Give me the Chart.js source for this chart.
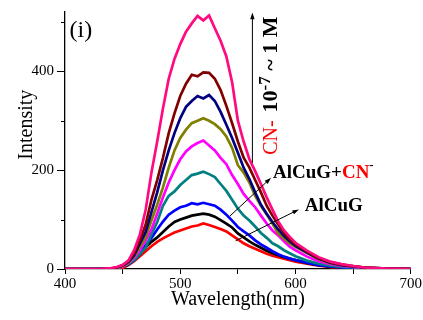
<!DOCTYPE html>
<html>
<head>
<meta charset="utf-8">
<title>Fluorescence spectra</title>
<script src="https://cdn.jsdelivr.net/npm/chart.js@4/dist/chart.umd.min.js"></script>
<style>
  html, body { margin: 0; padding: 0; background: #fff; }
  #wrap { width: 423px; height: 320px; }
</style>
</head>
<body>
<div id="wrap"><canvas id="spectra" width="423" height="320"></canvas></div>
<script>
// Emission wavelengths (nm)
const wavelengths = [400, 430, 440, 445, 450, 455, 460, 465, 470, 475, 480, 485, 490, 495, 500, 505, 510, 515, 520, 525, 530, 535, 540, 545, 550, 555, 560, 565, 570, 575, 580, 585, 590, 595, 600, 610, 620, 630, 640, 650, 660, 680, 700];

// Intensity for each CN- level, highest first
const cnHighest = [0, 0, 2, 4, 8, 17, 38, 70, 120, 195, 258, 325, 385, 425, 455, 480, 497, 512, 503, 513, 487, 462, 430, 378, 300, 258, 222, 198, 172, 145, 120, 96, 78, 65, 53, 37, 24, 15, 10, 6, 3, 1, 0];
const cnLevel7 = [0, 0, 1, 3, 8, 16, 32, 58, 90, 140, 180, 225, 275, 315, 350, 375, 393, 390, 398, 397, 385, 362, 330, 295, 258, 225, 205, 180, 155, 128, 108, 90, 73, 60, 50, 35, 22, 14, 9, 6, 3, 1, 0];
const cnLevel6 = [0, 0, 1, 3, 7, 14, 28, 52, 75, 115, 155, 200, 240, 275, 305, 328, 340, 350, 345, 352, 340, 318, 292, 265, 235, 205, 182, 155, 130, 112, 95, 80, 67, 56, 47, 33, 21, 13, 8, 5, 3, 1, 0];
const cnLevel5 = [0, 0, 1, 2, 6, 13, 25, 45, 65, 98, 130, 165, 205, 240, 265, 282, 295, 300, 305, 300, 293, 283, 268, 245, 210, 195, 175, 148, 128, 110, 92, 72, 62, 52, 45, 32, 20, 12, 8, 5, 3, 1, 0];
const cnLevel4 = [0, 0, 1, 2, 5, 12, 22, 38, 58, 80, 112, 145, 175, 200, 222, 238, 248, 255, 260, 250, 240, 225, 212, 190, 172, 152, 138, 125, 108, 92, 78, 68, 56, 45, 38, 25, 16, 10, 6, 4, 2, 1, 0];
const cnLevel3 = [0, 0, 1, 2, 5, 10, 18, 30, 43, 70, 95, 128, 148, 157, 170, 180, 190, 193, 197, 192, 186, 172, 158, 140, 122, 108, 98, 86, 73, 63, 52, 46, 38, 32, 26, 17, 11, 7, 4, 3, 2, 0, 0];
const cnLevel2 = [0, 0, 1, 2, 5, 10, 18, 30, 48, 63, 80, 96, 110, 118, 125, 128, 133, 131, 134, 131, 128, 120, 110, 98, 85, 76, 68, 58, 50, 43, 36, 30, 25, 21, 18, 13, 8, 5, 3, 2, 1, 0, 0];
const cnLevel1 = [0, 0, 1, 2, 5, 9, 18, 30, 44, 55, 64, 75, 86, 95, 100, 104, 108, 110, 112, 110, 106, 99, 92, 84, 72, 64, 56, 49, 43, 37, 32, 28, 24, 21, 18, 12, 8, 5, 3, 2, 1, 0, 0];
const alcugOnly = [0, 0, 0, 1, 2, 8, 16, 26, 36, 46, 55, 62, 68, 74, 78, 82, 86, 88, 92, 89, 85, 81, 76, 68, 60, 52, 46, 41, 36, 31, 27, 24, 21, 18, 15, 11, 7, 4, 2, 1, 1, 0, 0];

const seriesList = [cnHighest, cnLevel7, cnLevel6, cnLevel5, cnLevel4, cnLevel3, cnLevel2, cnLevel1, alcugOnly];
const seriesColors = ['#ff0a80', '#800000', '#000080', '#808000', '#ff00ff', '#008080', '#0000ff', '#000000', '#ff0000'];

const xTicks = [400, 500, 600, 700];
const yTicks = [0, 200, 400];
const yMinorTicks = [100, 300, 500];

const serif = "'Liberation Serif', 'Times New Roman', serif";

function drawArrow(ctx, x1, y1, x2, y2) {
    const ang = Math.atan2(y2 - y1, x2 - x1);
    const len = 7;
    ctx.beginPath();
    ctx.moveTo(x1, y1);
    ctx.lineTo(x2 - Math.cos(ang) * 4, y2 - Math.sin(ang) * 4);
    ctx.stroke();
    ctx.beginPath();
    ctx.moveTo(x2, y2);
    ctx.lineTo(x2 - len * Math.cos(ang - 0.32), y2 - len * Math.sin(ang - 0.32));
    ctx.lineTo(x2 - len * Math.cos(ang + 0.32), y2 - len * Math.sin(ang + 0.32));
    ctx.closePath();
    ctx.fill();
}

// Panel tag, y title, short minor ticks, concentration arrow and curve labels
const notes = {
    id: 'notes',
    afterDatasetsDraw(chart) {
        const ctx = chart.ctx;
        const x = chart.scales.x;
        const y = chart.scales.y;
        ctx.save();
        ctx.fillStyle = '#000';
        ctx.strokeStyle = '#000';
        ctx.lineWidth = 1;

        // short minor ticks on the y axis
        yMinorTicks.forEach(function (v) {
            const py = Math.round(y.getPixelForValue(v)) + 0.5;
            ctx.beginPath();
            ctx.moveTo(x.left - 4, py);
            ctx.lineTo(x.left, py);
            ctx.stroke();
        });

        // y axis title
        ctx.save();
        ctx.translate(27, y.getPixelForValue(292));
        ctx.rotate(-Math.PI / 2);
        ctx.font = '20px ' + serif;
        ctx.textAlign = 'center';
        ctx.textBaseline = 'middle';
        ctx.fillText('Intensity', 0, 0);
        ctx.restore();

        // (i)
        ctx.font = '24px ' + serif;
        ctx.textAlign = 'left';
        ctx.textBaseline = 'middle';
        ctx.fillText('(i)', x.getPixelForValue(404), y.getPixelForValue(483));

        // vertical arrow
        drawArrow(ctx, x.getPixelForValue(562.6), y.getPixelForValue(215),
                  x.getPixelForValue(562.6), y.getPixelForValue(519));

        // vertical label: CN- 10^-7 ~ 1 M
        ctx.save();
        ctx.translate(x.getPixelForValue(579), y.getPixelForValue(231));
        ctx.rotate(-Math.PI / 2);
        ctx.textBaseline = 'middle';
        let cx = 0;
        ctx.font = '20px ' + serif;
        ctx.fillStyle = '#ff0000';
        ctx.fillText('CN-', cx, 0);
        cx += ctx.measureText('CN- ').width + 3;
        ctx.fillStyle = '#000';
        ctx.font = 'bold 22px ' + serif;
        ctx.fillText('10', cx, 0);
        cx += ctx.measureText('10').width;
        ctx.font = 'bold 17px ' + serif;
        ctx.fillText('-7', cx, -6);
        cx += ctx.measureText('-7').width;
        ctx.font = 'bold 22px ' + serif;
        ctx.fillText(' ~ 1 M', cx, 0);
        ctx.restore();

        // AlCuG+CN- label
        ctx.textBaseline = 'alphabetic';
        ctx.font = 'bold 19px ' + serif;
        let lx = x.getPixelForValue(580.5);
        const ly = y.getPixelForValue(184.5);
        ctx.fillStyle = '#000';
        ctx.fillText('AlCuG+', lx, ly);
        lx += ctx.measureText('AlCuG+').width;
        ctx.fillStyle = '#ff0000';
        ctx.fillText('CN', lx, ly);
        lx += ctx.measureText('CN').width;
        ctx.fillStyle = '#000';
        ctx.font = 'bold 13px ' + serif;
        ctx.fillText('-', lx, ly - 9);

        // AlCuG label
        ctx.font = 'bold 19px ' + serif;
        ctx.fillText('AlCuG', x.getPixelForValue(608), y.getPixelForValue(118));

        // pointer arrows
        drawArrow(ctx, x.getPixelForValue(543), y.getPixelForValue(107),
                  x.getPixelForValue(578.8), y.getPixelForValue(184.5));
        drawArrow(ctx, x.getPixelForValue(548), y.getPixelForValue(57),
                  x.getPixelForValue(603), y.getPixelForValue(120.6));
        ctx.restore();
    }
};

const datasets = seriesList.map(function (vals, i) {
    return {
        data: wavelengths.map(function (w, j) { return { x: w, y: vals[j] }; }),
        borderColor: seriesColors[i],
        borderWidth: 2.7,
        pointRadius: 0,
        tension: 0,
        fill: false
    };
});

new Chart(document.getElementById('spectra'), {
    type: 'line',
    data: { datasets: datasets },
    plugins: [notes],
    options: {
        responsive: false,
        animation: false,
        events: [],
        layout: { padding: { left: 0, right: 11, top: 12, bottom: 0 } },
        plugins: {
            legend: { display: false },
            tooltip: { enabled: false }
        },
        scales: {
            x: {
                type: 'linear',
                min: 400,
                max: 700,
                afterFit: function (scale) { scale.height = 51; },
                border: { display: true, color: '#000', width: 1.3 },
                grid: { drawOnChartArea: false, drawTicks: true, tickLength: 5, color: '#000' },
                ticks: {
                    stepSize: 50,
                    maxRotation: 0,
                    padding: 1,
                    color: '#000',
                    font: { family: serif, size: 15 },
                    callback: function (v) { return xTicks.includes(v) ? String(v) : ''; }
                },
                title: {
                    display: true,
                    text: 'Wavelength(nm)',
                    color: '#000',
                    font: { family: serif, size: 20 },
                    padding: { top: 0, bottom: 8 }
                }
            },
            y: {
                min: 0,
                max: 520,
                afterFit: function (scale) { scale.width = 65; },
                border: { display: true, color: '#000', width: 1.3 },
                grid: {
                    drawOnChartArea: false,
                    drawTicks: true,
                    tickLength: 8,
                    color: '#000',
                    // minor ticks are drawn shorter by the notes plugin
                    tickColor: function (c) {
                        return c.tick && yTicks.includes(c.tick.value) ? '#000' : 'rgba(0,0,0,0)';
                    }
                },
                ticks: {
                    stepSize: 100,
                    includeBounds: false,
                    padding: 3,
                    color: '#000',
                    font: { family: serif, size: 15 },
                    callback: function (v) { return yTicks.includes(v) ? String(v) : ''; }
                }
            }
        }
    }
});
</script>
</body>
</html>
